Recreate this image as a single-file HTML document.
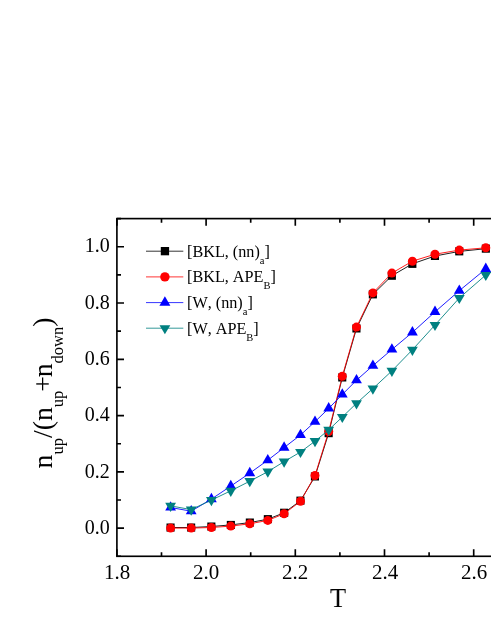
<!DOCTYPE html>
<html><head><meta charset="utf-8"><title>chart</title>
<style>
html,body{margin:0;padding:0;background:#fff;}
body{width:491px;height:635px;position:relative;overflow:hidden;font-family:"Liberation Serif",serif;color:#000;font-kerning:none;}
div{position:absolute;white-space:nowrap;line-height:1;will-change:transform;}
.xt{top:562.4px;width:60px;text-align:center;font-size:21px;transform:scaleY(1.03);transform-origin:50% 80%;}
.yt{left:40px;width:69.8px;text-align:right;font-size:20px;height:24px;line-height:24px;transform:scaleY(1.07);transform-origin:50% 80%;}
.lg{left:187.3px;font-size:16.2px;height:20px;line-height:20px;}
.lg sub{font-size:10.5px;vertical-align:baseline;position:relative;top:6.7px;line-height:0;}
.xl{left:307.5px;width:60px;text-align:center;top:585.3px;font-size:27px;transform:scaleX(0.97);}
.yl{left:-67px;top:378.15px;width:220px;height:30px;line-height:30px;text-align:center;font-size:27.75px;transform:rotate(-90deg);transform-origin:50% 50%;}
.yl sub{font-size:16.5px;vertical-align:baseline;position:relative;top:10.7px;line-height:0;}
</style></head><body>
<svg width="491" height="635" viewBox="0 0 491 635" style="position:absolute;left:0;top:0">
<rect x="116.90" y="218.61" width="446.00" height="337.68" fill="none" stroke="#000" stroke-width="1.65"/>
<path d="M116.90 556.29v-7.1 M116.90 218.61v7.1 M161.50 556.29v-4.1 M161.50 218.61v4.1 M206.10 556.29v-7.1 M206.10 218.61v7.1 M250.70 556.29v-4.1 M250.70 218.61v4.1 M295.30 556.29v-7.1 M295.30 218.61v7.1 M339.90 556.29v-4.1 M339.90 218.61v4.1 M384.50 556.29v-7.1 M384.50 218.61v7.1 M429.10 556.29v-4.1 M429.10 218.61v4.1 M473.70 556.29v-7.1 M473.70 218.61v7.1 M518.30 556.29v-4.1 M518.30 218.61v4.1 M562.90 556.29v-7.1 M562.90 218.61v7.1 M116.90 556.29h4.1 M562.90 556.29h-4.1 M116.90 528.15h7.1 M562.90 528.15h-7.1 M116.90 500.01h4.1 M562.90 500.01h-4.1 M116.90 471.87h7.1 M562.90 471.87h-7.1 M116.90 443.73h4.1 M562.90 443.73h-4.1 M116.90 415.59h7.1 M562.90 415.59h-7.1 M116.90 387.45h4.1 M562.90 387.45h-4.1 M116.90 359.31h7.1 M562.90 359.31h-7.1 M116.90 331.17h4.1 M562.90 331.17h-4.1 M116.90 303.03h7.1 M562.90 303.03h-7.1 M116.90 274.89h4.1 M562.90 274.89h-4.1 M116.90 246.75h7.1 M562.90 246.75h-7.1 M116.90 218.61h4.1 M562.90 218.61h-4.1" stroke="#000" stroke-width="1.65" fill="none"/>
<polyline points="170.6,527.5 191.2,527.5 211.4,526.5 230.8,524.9 249.8,522.6 267.8,519.2 284.1,512.8 300.5,500.7 315.0,476.5 328.7,433.1 342.3,377.5 356.5,328.4 372.9,294.4 391.9,275.7 412.4,263.8 435.0,256.0 459.3,251.4 485.8,248.7" fill="none" stroke="#000" stroke-width="0.88"/>
<rect x="166.5" y="523.5" width="8.1" height="8.1" fill="#000"/>
<rect x="187.1" y="523.5" width="8.1" height="8.1" fill="#000"/>
<rect x="207.3" y="522.5" width="8.1" height="8.1" fill="#000"/>
<rect x="226.8" y="520.9" width="8.1" height="8.1" fill="#000"/>
<rect x="245.8" y="518.5" width="8.1" height="8.1" fill="#000"/>
<rect x="263.8" y="515.1" width="8.1" height="8.1" fill="#000"/>
<rect x="280.1" y="508.7" width="8.1" height="8.1" fill="#000"/>
<rect x="296.4" y="496.6" width="8.1" height="8.1" fill="#000"/>
<rect x="310.9" y="472.4" width="8.1" height="8.1" fill="#000"/>
<rect x="324.6" y="429.1" width="8.1" height="8.1" fill="#000"/>
<rect x="338.2" y="373.4" width="8.1" height="8.1" fill="#000"/>
<rect x="352.4" y="324.4" width="8.1" height="8.1" fill="#000"/>
<rect x="368.8" y="290.3" width="8.1" height="8.1" fill="#000"/>
<rect x="387.8" y="271.7" width="8.1" height="8.1" fill="#000"/>
<rect x="408.3" y="259.8" width="8.1" height="8.1" fill="#000"/>
<rect x="430.9" y="251.9" width="8.1" height="8.1" fill="#000"/>
<rect x="455.2" y="247.3" width="8.1" height="8.1" fill="#000"/>
<rect x="481.8" y="244.6" width="8.1" height="8.1" fill="#000"/>
<polyline points="170.6,528.1 191.2,528.1 211.4,527.5 230.8,526.1 249.8,523.8 267.8,520.4 284.1,513.8 300.5,501.3 315.0,475.5 328.7,431.5 342.3,376.2 356.5,327.1 372.9,292.9 391.9,273.1 412.4,261.2 435.0,254.2 459.3,250.1 485.8,247.8" fill="none" stroke="#f00" stroke-width="0.88"/>
<circle cx="170.6" cy="528.1" r="4.5" fill="#f00"/>
<circle cx="191.2" cy="528.1" r="4.5" fill="#f00"/>
<circle cx="211.4" cy="527.5" r="4.5" fill="#f00"/>
<circle cx="230.8" cy="526.1" r="4.5" fill="#f00"/>
<circle cx="249.8" cy="523.8" r="4.5" fill="#f00"/>
<circle cx="267.8" cy="520.4" r="4.5" fill="#f00"/>
<circle cx="284.1" cy="513.8" r="4.5" fill="#f00"/>
<circle cx="300.5" cy="501.3" r="4.5" fill="#f00"/>
<circle cx="315.0" cy="475.5" r="4.5" fill="#f00"/>
<circle cx="328.7" cy="431.5" r="4.5" fill="#f00"/>
<circle cx="342.3" cy="376.2" r="4.5" fill="#f00"/>
<circle cx="356.5" cy="327.1" r="4.5" fill="#f00"/>
<circle cx="372.9" cy="292.9" r="4.5" fill="#f00"/>
<circle cx="391.9" cy="273.1" r="4.5" fill="#f00"/>
<circle cx="412.4" cy="261.2" r="4.5" fill="#f00"/>
<circle cx="435.0" cy="254.2" r="4.5" fill="#f00"/>
<circle cx="459.3" cy="250.1" r="4.5" fill="#f00"/>
<circle cx="485.8" cy="247.8" r="4.5" fill="#f00"/>
<polyline points="170.6,507.5 191.2,511.2 211.4,499.1 230.8,486.1 249.8,473.1 267.8,460.2 284.1,447.6 300.5,435.0 315.0,421.7 328.7,408.4 342.3,394.5 356.5,380.2 372.9,365.7 391.9,349.5 412.4,332.4 435.0,311.9 459.3,290.7 485.8,268.9" fill="none" stroke="#0000ff" stroke-width="0.88"/>
<path d="M170.6 501.2L176.0 510.6H165.2Z" fill="#00f"/>
<path d="M191.2 504.9L196.6 514.3H185.8Z" fill="#00f"/>
<path d="M211.4 492.8L216.8 502.2H206.0Z" fill="#00f"/>
<path d="M230.8 479.8L236.2 489.2H225.4Z" fill="#00f"/>
<path d="M249.8 466.8L255.2 476.2H244.4Z" fill="#00f"/>
<path d="M267.8 453.9L273.2 463.3H262.4Z" fill="#00f"/>
<path d="M284.1 441.3L289.5 450.7H278.7Z" fill="#00f"/>
<path d="M300.5 428.7L305.9 438.1H295.1Z" fill="#00f"/>
<path d="M315.0 415.4L320.4 424.8H309.6Z" fill="#00f"/>
<path d="M328.7 402.1L334.1 411.5H323.3Z" fill="#00f"/>
<path d="M342.3 388.2L347.7 397.6H336.9Z" fill="#00f"/>
<path d="M356.5 373.9L361.9 383.3H351.1Z" fill="#00f"/>
<path d="M372.9 359.4L378.3 368.8H367.5Z" fill="#00f"/>
<path d="M391.9 343.2L397.3 352.6H386.5Z" fill="#00f"/>
<path d="M412.4 326.1L417.8 335.5H407.0Z" fill="#00f"/>
<path d="M435.0 305.6L440.4 315.0H429.6Z" fill="#00f"/>
<path d="M459.3 284.4L464.7 293.8H453.9Z" fill="#00f"/>
<path d="M485.8 262.6L491.2 272.0H480.4Z" fill="#00f"/>
<polyline points="170.6,505.9 191.2,509.6 211.4,500.1 230.8,490.8 249.8,481.2 267.8,471.7 284.1,461.6 300.5,452.0 315.0,441.2 328.7,429.9 342.3,417.0 356.5,403.3 372.9,388.6 391.9,370.9 412.4,349.8 435.0,325.0 459.3,298.0 485.8,275.0" fill="none" stroke="#008080" stroke-width="0.88"/>
<path d="M170.6 512.0L176.0 502.8H165.2Z" fill="#008080"/>
<path d="M191.2 515.7L196.6 506.5H185.8Z" fill="#008080"/>
<path d="M211.4 506.2L216.8 497.0H206.0Z" fill="#008080"/>
<path d="M230.8 496.9L236.2 487.7H225.4Z" fill="#008080"/>
<path d="M249.8 487.3L255.2 478.1H244.4Z" fill="#008080"/>
<path d="M267.8 477.8L273.2 468.6H262.4Z" fill="#008080"/>
<path d="M284.1 467.7L289.5 458.5H278.7Z" fill="#008080"/>
<path d="M300.5 458.1L305.9 448.9H295.1Z" fill="#008080"/>
<path d="M315.0 447.3L320.4 438.1H309.6Z" fill="#008080"/>
<path d="M328.7 436.0L334.1 426.8H323.3Z" fill="#008080"/>
<path d="M342.3 423.1L347.7 413.9H336.9Z" fill="#008080"/>
<path d="M356.5 409.4L361.9 400.2H351.1Z" fill="#008080"/>
<path d="M372.9 394.7L378.3 385.5H367.5Z" fill="#008080"/>
<path d="M391.9 377.0L397.3 367.8H386.5Z" fill="#008080"/>
<path d="M412.4 355.9L417.8 346.7H407.0Z" fill="#008080"/>
<path d="M435.0 331.1L440.4 321.9H429.6Z" fill="#008080"/>
<path d="M459.3 304.1L464.7 294.9H453.9Z" fill="#008080"/>
<path d="M485.8 281.1L491.2 271.9H480.4Z" fill="#008080"/>
<path d="M146.0 251.2H183.3" stroke="#000" stroke-width="0.8"/>
<rect x="160.8" y="247.0" width="8.3" height="8.3" fill="#000"/>
<path d="M146.0 276.9H183.3" stroke="#f00" stroke-width="0.8"/>
<circle cx="164.9" cy="276.9" r="4.7" fill="#f00"/>
<path d="M146.0 302.6H183.3" stroke="#0000ff" stroke-width="0.8"/>
<path d="M164.9 296.3L170.4 305.7H159.4Z" fill="#00f"/>
<path d="M146.0 328.2H183.3" stroke="#008080" stroke-width="0.8"/>
<path d="M164.9 334.3L170.3 325.2H159.5Z" fill="#008080"/>
</svg>
<div class="xt" style="left:86.9px">1.8</div>
<div class="xt" style="left:176.1px">2.0</div>
<div class="xt" style="left:265.3px">2.2</div>
<div class="xt" style="left:354.5px">2.4</div>
<div class="xt" style="left:443.7px">2.6</div>
<div class="yt" style="top:514.9px">0.0</div>
<div class="yt" style="top:458.6px">0.2</div>
<div class="yt" style="top:402.3px">0.4</div>
<div class="yt" style="top:346.0px">0.6</div>
<div class="yt" style="top:289.7px">0.8</div>
<div class="yt" style="top:233.4px">1.0</div>
<div class="lg" style="top:241.6px">[BKL, (nn)<sub>a</sub>]</div>
<div class="lg" style="top:267.3px">[BKL, APE<sub>B</sub>]</div>
<div class="lg" style="top:293.0px">[W, (nn)<sub>a</sub>]</div>
<div class="lg" style="top:318.6px">[W, APE<sub>B</sub>]</div>
<div class="xl">T</div>
<div class="yl">n<sub>up</sub>/(n<sub>up</sub><span style="margin:0 -1.2px 0 -1.1px">+</span>n<sub>down</sub>)</div>
</body></html>
